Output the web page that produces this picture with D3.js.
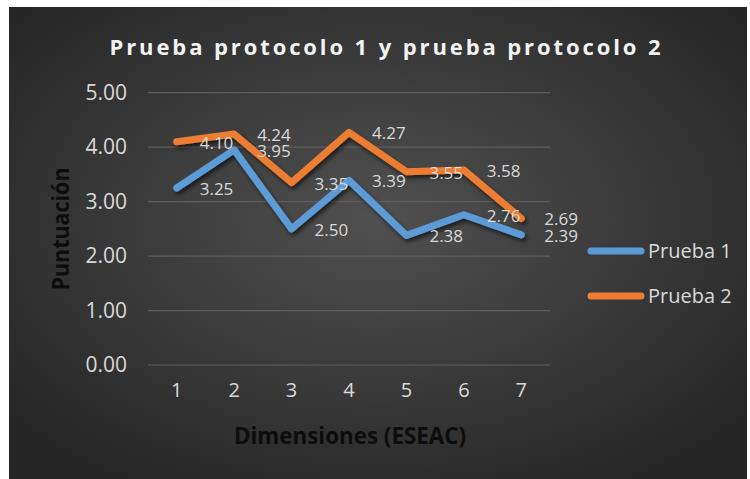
<!DOCTYPE html>
<html><head><meta charset="utf-8">
<script src="https://cdn.jsdelivr.net/npm/d3@7"></script>
<style>body{margin:0;background:#fff}svg{display:block}</style>
</head><body>
<script>
const categories = ["1","2","3","4","5","6","7"];
const prueba1 = [3.25, 3.95, 2.50, 3.39, 2.38, 2.76, 2.39];
const prueba2 = [4.10, 4.24, 3.35, 4.27, 3.55, 3.58, 2.69];
const yTicks = [0, 1, 2, 3, 4, 5];
const seriesNames = ["Prueba 1", "Prueba 2"];
const colors = ["#5B9BD5", "#ED7D31"];

const W = 750, H = 479;
const svg = d3.select("body").append("svg").attr("width", W).attr("height", H);
const defs = svg.append("defs");
const rg = defs.append("radialGradient").attr("id","bg").attr("cx","50%").attr("cy","45%").attr("r","65%");
rg.append("stop").attr("offset","0%").attr("stop-color","#505050");
rg.append("stop").attr("offset","100%").attr("stop-color","#262626");
const f = defs.append("filter").attr("id","sh").attr("x","-10%").attr("y","-20%").attr("width","130%").attr("height","150%");
f.append("feDropShadow").attr("dx",2).attr("dy",3).attr("stdDeviation",2.2).attr("flood-color","#000").attr("flood-opacity",0.6);

svg.append("rect").attr("x",9).attr("y",7).attr("width",738).attr("height",472).attr("fill","url(#bg)");

const x = d3.scaleBand().domain(categories).range([148, 550]);
const y = d3.scaleLinear().domain([0, 5]).range([365, 92.7]);

// gridlines
svg.append("g").selectAll("line").data(yTicks).join("line")
  .attr("x1",148).attr("x2",550).attr("y1",d=>y(d)).attr("y2",d=>y(d))
  .attr("stroke","#5e5e5e").attr("stroke-width",1.2);

// y axis
const yAxis = svg.append("g").attr("transform","translate(148,0)")
  .call(d3.axisLeft(y).tickValues(yTicks).tickFormat(d3.format(".2f")).tickSize(0).tickPadding(21));
yAxis.select(".domain").remove();
yAxis.selectAll("text").attr("fill","#d9d9d9").style("font-family","Open Sans").style("font-size","21px");

// x axis
const xAxis = svg.append("g").attr("transform","translate(0,365)")
  .call(d3.axisBottom(x).tickSize(0).tickPadding(18));
xAxis.select(".domain").remove();
xAxis.selectAll("text").attr("fill","#d9d9d9").style("font-family","Open Sans").style("font-size","20px");

// lines
const data = [prueba1, prueba2];
const line = d3.line().x((d,i)=>x(categories[i]) + x.bandwidth()/2).y(d=>y(d));
svg.append("g").selectAll("path").data(data).join("path")
  .attr("d", line).attr("fill","none").attr("stroke",(d,i)=>colors[i])
  .attr("stroke-width",7).attr("stroke-linecap","round").attr("stroke-linejoin","round")
  .attr("filter","url(#sh)");

// data labels
data.forEach((s, si) => {
  svg.append("g").selectAll("text").data(s).join("text")
    .attr("x",(d,i)=>x(categories[i]) + x.bandwidth()/2 + 23)
    .attr("y",(d,i)=>y(d) + 1)
    .attr("dy","0.35em")
    .attr("fill","#d9d9d9").style("font-family","Open Sans").style("font-size","17px")
    .text(d=>d3.format(".2f")(d));
});

// legend
seriesNames.forEach((n,i)=>{
  const ly = 251 + i*45;
  svg.append("line").attr("x1",591).attr("x2",641).attr("y1",ly).attr("y2",ly)
    .attr("stroke",colors[i]).attr("stroke-width",7).attr("stroke-linecap","round");
  svg.append("text").attr("x",648).attr("y",ly).attr("dy","0.35em")
    .attr("fill","#d9d9d9").style("font-family","Open Sans").style("font-size","20px").text(n);
});

// title
svg.append("text").attr("x",385).attr("y",55).attr("text-anchor","middle")
  .attr("fill","#f2f2f2").style("font-family","Open Sans").style("font-weight","bold").style("font-size","22px")
  .attr("textLength",551).attr("lengthAdjust","spacing")
  .text("Prueba protocolo 1 y prueba protocolo 2");

// axis titles
svg.append("text").attr("transform","translate(69,229) rotate(-90)").attr("text-anchor","middle")
  .attr("fill","#0d0d0d").style("font-family","Open Sans").style("font-weight","bold").style("font-size","23px")
  .attr("textLength",123).attr("lengthAdjust","spacingAndGlyphs")
  .text("Puntuación");
svg.append("text").attr("x",350).attr("y",444).attr("text-anchor","middle")
  .attr("fill","#0d0d0d").style("font-family","Open Sans").style("font-weight","bold").style("font-size","23px")
  .attr("textLength",232).attr("lengthAdjust","spacingAndGlyphs")
  .text("Dimensiones (ESEAC)");
</script>
</body></html>
